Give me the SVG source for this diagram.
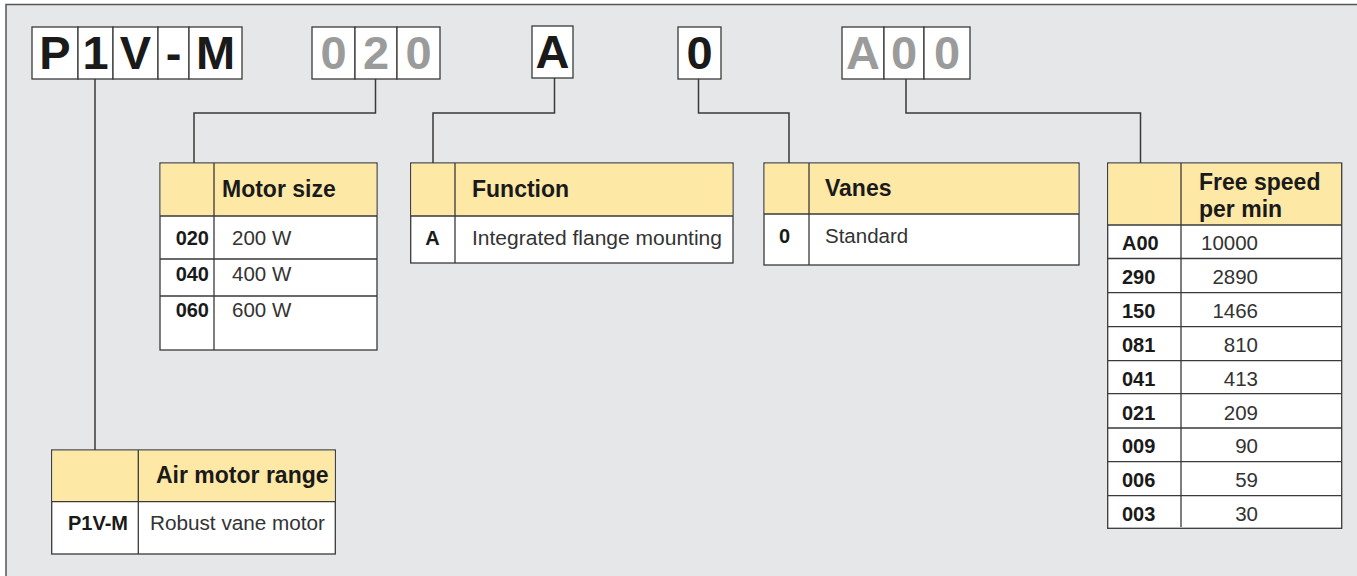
<svg xmlns="http://www.w3.org/2000/svg" width="1357" height="576" viewBox="0 0 1357 576">
<style>
.frame{fill:#e6e7e8;stroke:#555;stroke-width:1.5}
.cell{fill:#fff;stroke:#3a3a3a;stroke-width:1.3}
.big{font-family:"Liberation Sans",Arial,sans-serif;font-weight:bold;font-size:47px;text-anchor:middle}
.blk{fill:#1a1a1a}
.gry{fill:#9b9b9b}
.tbl{fill:#fff;stroke:#3a3a3a;stroke-width:1.3}
.hdr{fill:#fee8a6}
.ln{stroke:#3a3a3a;stroke-width:1.3;fill:none}
.conn{stroke:#3a3a3a;stroke-width:1.5;fill:none}
.h{font-family:"Liberation Sans",Arial,sans-serif;font-weight:bold;font-size:23px;fill:#1a1a1a}
.b{font-family:"Liberation Sans",Arial,sans-serif;font-weight:bold;font-size:20px;fill:#1a1a1a}
.r{font-family:"Liberation Sans",Arial,sans-serif;font-size:20.5px;fill:#333}
.e{text-anchor:end}
.m{text-anchor:middle}
</style>
<rect class="frame" x="6" y="4.5" width="1360" height="580"/>

<g id="connectors">
<path class="conn" d="M95,79 V450"/>
<path class="conn" d="M375.5,79 V113 H194 V163"/>
<path class="conn" d="M554.5,78 V113 H433 V163"/>
<path class="conn" d="M698.5,79 V113 H789 V163"/>
<path class="conn" d="M906,79 V113 H1140.5 V163"/>
</g>

<g id="code-p1vm">
<rect class="cell" x="32" y="27" width="46" height="52"/>
<rect class="cell" x="78" y="27" width="35" height="52"/>
<rect class="cell" x="113" y="27" width="45" height="52"/>
<rect class="cell" x="158" y="27" width="31" height="52"/>
<rect class="cell" x="189" y="27" width="53" height="52"/>
<text class="big blk" x="55" y="69">P</text>
<text class="big blk" x="95.5" y="69">1</text>
<text class="big blk" x="135.5" y="69">V</text>
<text class="big blk" x="173.5" y="69">-</text>
<text class="big blk" x="215.5" y="69">M</text>
</g>

<g id="code-020">
<rect class="cell" x="312" y="27" width="43" height="52"/>
<rect class="cell" x="355" y="27" width="42" height="52"/>
<rect class="cell" x="397" y="27" width="43" height="52"/>
<text class="big gry" x="333.5" y="69">0</text>
<text class="big gry" x="376" y="69">2</text>
<text class="big gry" x="418.5" y="69">0</text>
</g>

<g id="code-a">
<rect class="cell" x="532" y="26" width="41" height="52"/>
<text class="big blk" x="552.5" y="68">A</text>
</g>

<g id="code-0">
<rect class="cell" x="678" y="27" width="43" height="52"/>
<text class="big blk" x="699.5" y="69">0</text>
</g>

<g id="code-a00">
<rect class="cell" x="842" y="27" width="42" height="52"/>
<rect class="cell" x="884" y="27" width="40" height="52"/>
<rect class="cell" x="924" y="27" width="46" height="52"/>
<text class="big gry" x="863" y="69">A</text>
<text class="big gry" x="904" y="69">0</text>
<text class="big gry" x="947" y="69">0</text>
</g>

<g id="table-motor-size">
<rect class="tbl" x="160" y="163" width="217" height="187"/>
<rect class="hdr" x="160.7" y="163.7" width="215.6" height="52.3"/>
<path class="ln" d="M160,216 H377 M160,259 H377 M160,296 H377 M214,163 V350"/>
<text class="h" x="222" y="197">Motor size</text>
<text class="b e" x="209" y="245">020</text><text class="r" x="232" y="245">200 W</text>
<text class="b e" x="209" y="281">040</text><text class="r" x="232" y="281">400 W</text>
<text class="b e" x="209" y="317">060</text><text class="r" x="232" y="317">600 W</text>
</g>

<g id="table-function">
<rect class="tbl" x="410.7" y="163" width="322.3" height="100"/>
<rect class="hdr" x="411.4" y="163.7" width="320.9" height="52.3"/>
<path class="ln" d="M410.7,216 H733 M455,163 V263"/>
<text class="h" x="472" y="197">Function</text>
<text class="b m" x="432.5" y="245">A</text>
<text class="r" x="472" y="245" textLength="250" lengthAdjust="spacingAndGlyphs">Integrated flange mounting</text>
</g>

<g id="table-vanes">
<rect class="tbl" x="764" y="163" width="315" height="102"/>
<rect class="hdr" x="764.7" y="163.7" width="313.6" height="50.3"/>
<path class="ln" d="M764,214 H1079 M809,163 V265"/>
<text class="h" x="825" y="196">Vanes</text>
<text class="b m" x="784.5" y="243">0</text>
<text class="r" x="825" y="243">Standard</text>
</g>

<g id="table-free-speed">
<rect class="tbl" x="1107.7" y="163" width="234" height="365.3"/>
<rect class="hdr" x="1108.4" y="163.7" width="232.6" height="61.3"/>
<path class="ln" d="M1107.7,225 H1341.7 M1107.7,258.5 H1341.7 M1107.7,292.7 H1341.7 M1107.7,326.7 H1341.7 M1107.7,360.7 H1341.7 M1107.7,393.7 H1341.7 M1107.7,428 H1341.7 M1107.7,461.7 H1341.7 M1107.7,495.7 H1341.7 M1181,163 V527"/>
<text class="h" x="1199" y="190">Free speed</text>
<text class="h" x="1199" y="217">per min</text>
<text class="b" x="1122" y="250">A00</text><text class="r e" x="1258" y="250">10000</text>
<text class="b" x="1122" y="284">290</text><text class="r e" x="1258" y="284">2890</text>
<text class="b" x="1122" y="318">150</text><text class="r e" x="1258" y="318">1466</text>
<text class="b" x="1122" y="352">081</text><text class="r e" x="1258" y="352">810</text>
<text class="b" x="1122" y="386">041</text><text class="r e" x="1258" y="386">413</text>
<text class="b" x="1122" y="420">021</text><text class="r e" x="1258" y="420">209</text>
<text class="b" x="1122" y="453">009</text><text class="r e" x="1258" y="453">90</text>
<text class="b" x="1122" y="487">006</text><text class="r e" x="1258" y="487">59</text>
<text class="b" x="1122" y="521">003</text><text class="r e" x="1258" y="521">30</text>
</g>

<g id="table-air-motor-range">
<rect class="tbl" x="51.7" y="450" width="283.6" height="104"/>
<rect class="hdr" x="52.4" y="450.7" width="282.2" height="51"/>
<path class="ln" d="M51.7,501.7 H335.3 M138.3,450 V554"/>
<text class="h" x="156" y="483">Air motor range</text>
<text class="b e" x="128" y="530">P1V-M</text>
<text class="r" x="150" y="530" textLength="175" lengthAdjust="spacingAndGlyphs">Robust vane motor</text>
</g>
</svg>
